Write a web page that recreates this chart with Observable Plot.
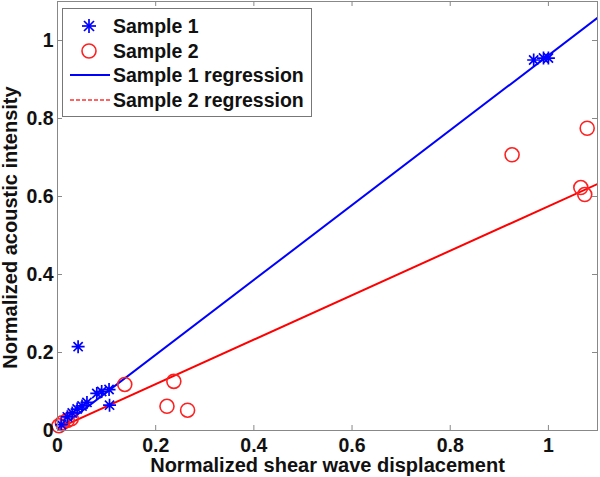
<!DOCTYPE html>
<html>
<head>
<meta charset="utf-8">
<script src="https://cdn.jsdelivr.net/npm/d3@7"></script>
<script src="https://cdn.jsdelivr.net/npm/@observablehq/plot@0.6"></script>
<style>
  html, body { margin: 0; padding: 0; background: #fff; }
  #wrap { position: relative; width: 600px; height: 477px; font-family: "Liberation Sans", Arial, sans-serif; }
  #legend { position: absolute; left: 62px; top: 8px; width: 250px; height: 109px; box-sizing: border-box;
    border: 1px solid #777; background: #fff; font-weight: bold; font-size: 19.5px; color: #111; }
  #legend .row { position: absolute; left: 0; height: 24px; display: flex; align-items: center; }
  #legend svg { width: 50px; height: 24px; flex: none; }
  #legend span { white-space: nowrap; }
</style>
</head>
<body>
<div id="wrap"></div>
<script>
// ---- data ----
const s1x = [0.008, 0.02, 0.03, 0.04, 0.05, 0.06, 0.08, 0.09, 0.105, 0.106, 0.042, 0.97, 0.99, 1.0];
const s1y = [0.015, 0.035, 0.045, 0.055, 0.063, 0.072, 0.095, 0.1, 0.105, 0.065, 0.215, 0.95, 0.955, 0.955];
const s2x = [0.003, 0.01, 0.02, 0.028, 0.137, 0.237, 0.223, 0.265, 0.926, 1.079, 1.066, 1.074];
const s2y = [0.012, 0.02, 0.026, 0.03, 0.118, 0.126, 0.062, 0.052, 0.707, 0.775, 0.623, 0.605];
const reg1 = {intercept: 0.002, slope: 0.96};
const reg2 = {intercept: 0.005, slope: 0.57};
const xTicks = [0, 0.2, 0.4, 0.6, 0.8, 1];
const yTicks = [0, 0.2, 0.4, 0.6, 0.8, 1];
const xDomain = [0, 1.1];
const yDomain = [0, 1.1];
const xLabel = "Normalized shear wave displacement";
const yLabel = "Normalized acoustic intensity";
const legendLabels = ["Sample 1", "Sample 2", "Sample 1 regression", "Sample 2 regression"];

const s1 = s1x.map((x, i) => ({x, y: s1y[i]}));
const s2 = s2x.map((x, i) => ({x, y: s2y[i]}));
const line1 = xDomain.map(x => ({x, y: reg1.intercept + reg1.slope * x}));
const line2 = xDomain.map(x => ({x, y: reg2.intercept + reg2.slope * x}));

const asterisk8 = {
  draw(ctx, size) {
    const r = Math.sqrt(size / Math.PI);
    const d = r * Math.SQRT1_2;
    ctx.moveTo(-r, 0); ctx.lineTo(r, 0);
    ctx.moveTo(0, -r); ctx.lineTo(0, r);
    ctx.moveTo(-d, -d); ctx.lineTo(d, d);
    ctx.moveTo(-d, d); ctx.lineTo(d, -d);
  }
};

const W = 600, H = 477;
const mL = 57, mR = 3, mT = 1, mB = 47;
const ph = H - mT - mB, pw = W - mL - mR;
const tick = 5;
const font = "'Liberation Sans', Arial, sans-serif";

const chart = Plot.plot({
  width: W, height: H,
  marginLeft: mL, marginRight: mR, marginTop: mT, marginBottom: mB,
  style: {fontFamily: font, fontSize: "19.5px", fontWeight: "bold", background: "#fff", color: "#111"},
  x: {domain: xDomain},
  y: {domain: yDomain},
  marks: [
    Plot.line(line1, {x: "x", y: "y", stroke: "#0000ff", strokeWidth: 2, clip: true}),
    Plot.line(line2, {x: "x", y: "y", stroke: "#ff0000", strokeWidth: 2, clip: true}),
    Plot.dot(s2, {x: "x", y: "y", r: 7, stroke: "#ff2020", strokeWidth: 1.6, fill: "none"}),
    Plot.dot(s1, {x: "x", y: "y", r: 6.5, symbol: asterisk8, stroke: "#0000ff", strokeWidth: 1.7, fill: "none"}),
    Plot.frame({stroke: "#888"}),
    Plot.tickX(xTicks, {x: d => d, insetTop: ph - tick, stroke: "#888"}),
    Plot.tickX(xTicks, {x: d => d, insetBottom: ph - tick, stroke: "#888"}),
    Plot.tickY(yTicks, {y: d => d, insetRight: pw - tick, stroke: "#888"}),
    Plot.tickY(yTicks, {y: d => d, insetLeft: pw - tick, stroke: "#888"}),
    Plot.axisX({ticks: xTicks, tickSize: 0, tickPadding: 8, label: null, fill: "#111", tickFormat: d => String(d)}),
    Plot.axisY({ticks: yTicks, tickSize: 0, tickPadding: 4, label: null, fill: "#111", tickFormat: d => String(d)}),
    Plot.text([xLabel], {text: d => d, frameAnchor: "bottom", lineAnchor: "middle", textAnchor: "middle", dy: 35.5, fontSize: 20, fontWeight: "bold", fill: "#111"}),
    Plot.text([yLabel], {text: d => d, frameAnchor: "left", lineAnchor: "middle", textAnchor: "middle", rotate: -90, dx: -47, dy: 11.5, fontSize: 20, fontWeight: "bold", fill: "#111"})
  ]
});

const wrap = document.getElementById("wrap");
wrap.appendChild(chart);

// legend overlay
const legend = document.createElement("div");
legend.id = "legend";
const rowsY = [5, 30, 54, 79];
const icons = [
  `<svg viewBox="0 0 50 24"><g stroke="#0000ff" stroke-width="1.7"><line x1="19" y1="12" x2="33" y2="12"/><line x1="26" y1="5" x2="26" y2="19"/><line x1="21" y1="7" x2="31" y2="17"/><line x1="21" y1="17" x2="31" y2="7"/></g></svg>`,
  `<svg viewBox="0 0 50 24"><circle cx="26" cy="12" r="7" fill="none" stroke="#ff2020" stroke-width="1.6"/></svg>`,
  `<svg viewBox="0 0 50 24"><line x1="7" y1="12" x2="47" y2="12" stroke="#0000ff" stroke-width="2"/></svg>`,
  `<svg viewBox="0 0 50 24"><line x1="7" y1="12" x2="47" y2="12" stroke="#ff3030" stroke-width="1.6" stroke-dasharray="4,2"/></svg>`
];
legendLabels.forEach((lab, i) => {
  const row = document.createElement("div");
  row.className = "row";
  row.style.top = rowsY[i] + "px";
  row.innerHTML = icons[i] + `<span>${lab}</span>`;
  legend.appendChild(row);
});
wrap.appendChild(legend);
</script>
</body>
</html>
